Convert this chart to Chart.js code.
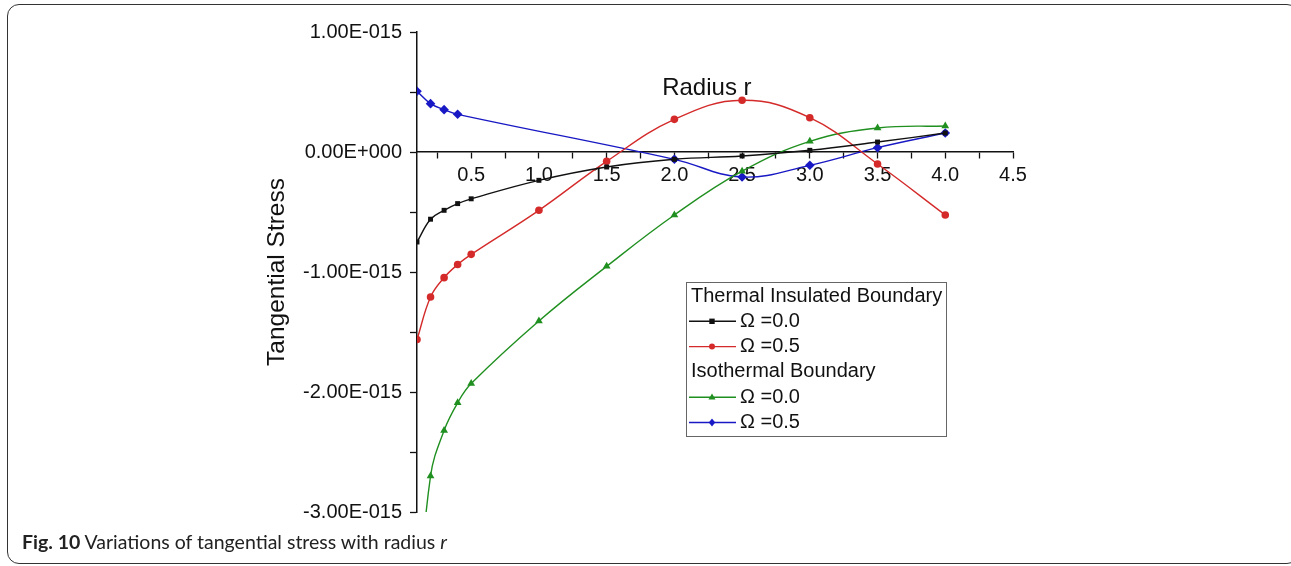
<!DOCTYPE html>
<html>
<head>
<meta charset="utf-8">
<script src="https://cdn.jsdelivr.net/npm/chart.js@4/dist/chart.umd.min.js"></script>
<style>
  body { margin: 0; background: #fff; width: 1291px; height: 566px; overflow: hidden; position: relative; }
  #frame { position: absolute; left: 7px; top: 4px; width: 1290px; height: 558px; border: 1.5px solid #333; border-radius: 12px; }
  #chart { position: absolute; left: 0; top: 0; }
  #caption { position: absolute; left: 22px; top: 530px; font-family: Lato, "Liberation Sans", sans-serif; font-size: 19.5px; color: #222; }
</style>
</head>
<body>
<div id="frame"></div>
<canvas id="chart" width="1291" height="566"></canvas>
<div id="caption"><b>Fig. 10</b> Variations of tangential stress with radius <i>r</i></div>
<script>
// values in units of 1e-15
const rInsul0 = [0.1, 0.2, 0.3, 0.4, 0.5, 1.0, 1.5, 2.0, 2.5, 3.0, 3.5, 4.0];
const sInsul0 = [-0.75, -0.56, -0.486, -0.43, -0.39, -0.236, -0.125, -0.061, -0.033, 0.014, 0.083, 0.158];

const rInsul5 = [0.1, 0.2, 0.3, 0.4, 0.5, 1.0, 1.5, 2.0, 2.5, 3.0, 3.5, 4.0];
const sInsul5 = [-1.563, -1.208, -1.047, -0.938, -0.853, -0.486, -0.078, 0.272, 0.431, 0.286, -0.1, -0.525];

const rIso0 = [0.1, 0.2, 0.3, 0.4, 0.5, 1.0, 1.5, 2.0, 2.5, 3.0, 3.5, 4.0];
const sIso0 = [-3.9, -2.70, -2.32, -2.09, -1.93, -1.408, -0.953, -0.525, -0.16, 0.089, 0.2, 0.217];

const rIso5 = [0.1, 0.2, 0.3, 0.4, 2.0, 2.5, 3.0, 3.5, 4.0];
const sIso5 = [0.506, 0.403, 0.353, 0.314, -0.061, -0.208, -0.111, 0.036, 0.158];

const yTicks = [-3, -2, -1, 0, 1];
const xLabelTicks = [0.5, 1.0, 1.5, 2.0, 2.5, 3.0, 3.5, 4.0, 4.5];

const FONT = "'Liberation Sans', Arial, sans-serif";

function pts(xs, ys) {
  return xs.map((x, i) => ({ x: x, y: ys[i] }));
}

function fmtE(v) {
  if (v === 0) return '0.00E+000';
  return (v < 0 ? '-' : '') + Math.abs(v).toFixed(2) + 'E-015';
}

const series = [
  { label: 'Ω =0.0', group: 'Thermal Insulated Boundary', data: pts(rInsul0, sInsul0), color: '#111111', style: 'rect', radius: 3.5 },
  { label: 'Ω =0.5', group: 'Thermal Insulated Boundary', data: pts(rInsul5, sInsul5), color: '#d42a2a', style: 'circle', radius: 3.8 },
  { label: 'Ω =0.0', group: 'Isothermal Boundary', data: pts(rIso0, sIso0), color: '#1f8f1f', style: 'triangle', radius: 4.5 },
  { label: 'Ω =0.5', group: 'Isothermal Boundary', data: pts(rIso5, sIso5), color: '#1818c4', style: 'rectRot', radius: 4.8 }
];

function drawMarker(ctx, style, r, x, y) {
  ctx.beginPath();
  if (style === 'rect') {
    ctx.rect(x - r, y - r, 2 * r, 2 * r);
  } else if (style === 'circle') {
    ctx.arc(x, y, r, 0, Math.PI * 2);
  } else if (style === 'triangle') {
    ctx.moveTo(x, y - r);
    ctx.lineTo(x + r * 0.95, y + r * 0.6);
    ctx.lineTo(x - r * 0.95, y + r * 0.6);
    ctx.closePath();
  } else {
    ctx.moveTo(x, y - r);
    ctx.lineTo(x + r * 0.8, y);
    ctx.lineTo(x, y + r);
    ctx.lineTo(x - r * 0.8, y);
    ctx.closePath();
  }
  ctx.fill();
}

const boxLegend = {
  id: 'boxLegend',
  afterDraw(chart) {
    const ctx = chart.ctx;
    const x0 = 686, y0 = 282, w = 260, h = 154;
    ctx.save();
    ctx.strokeStyle = '#666';
    ctx.lineWidth = 1;
    ctx.strokeRect(x0 + 0.5, y0 + 0.5, w, h);
    ctx.font = '20px ' + FONT;
    ctx.textBaseline = 'middle';
    ctx.fillStyle = '#111';
    let y = y0 + 14;
    let lastGroup = null;
    series.forEach(s => {
      if (s.group !== lastGroup) {
        ctx.fillStyle = '#111';
        ctx.fillText(s.group, x0 + 5, y);
        y += 25.3;
        lastGroup = s.group;
      }
      ctx.strokeStyle = s.color;
      ctx.lineWidth = 1.4;
      ctx.beginPath();
      ctx.moveTo(x0 + 3, y);
      ctx.lineTo(x0 + 50, y);
      ctx.stroke();
      ctx.fillStyle = s.color;
      drawMarker(ctx, s.style, s.radius - 0.8, x0 + 26, y);
      ctx.fillStyle = '#111';
      ctx.fillText(s.label, x0 + 54, y);
      y += 25.3;
    });
    ctx.restore();
  }
};

const axisTitle = {
  id: 'axisTitle',
  afterDraw(chart) {
    const ctx = chart.ctx;
    const xs = chart.scales.x, ys = chart.scales.y;
    ctx.save();
    ctx.font = '24px ' + FONT;
    ctx.fillStyle = '#111';
    ctx.textAlign = 'center';
    ctx.textBaseline = 'middle';
    ctx.fillText('Radius r', xs.getPixelForValue(2.24), ys.getPixelForValue(0.53));
    ctx.restore();
  }
};

new Chart(document.getElementById('chart'), {
  type: 'line',
  data: {
    datasets: series.map(s => ({
      label: s.label,
      data: s.data,
      borderColor: s.color,
      backgroundColor: s.color,
      borderWidth: 1.4,
      pointStyle: s.style,
      pointRadius: s.radius,
      pointBorderWidth: 0,
      pointBackgroundColor: s.color,
      tension: 0.4,
      fill: false
    }))
  },
  options: {
    responsive: false,
    animation: false,
    layout: { padding: { left: 263, top: 32, right: 278, bottom: 54 } },
    plugins: { legend: { display: false }, tooltip: { enabled: false } },
    scales: {
      x: {
        type: 'linear',
        position: { y: 0 },
        min: 0.1,
        max: 4.5,
        afterFit: s => { s.height = 0; },
        afterBuildTicks: s => {
          const t = [];
          for (let v = 0.25; v <= 4.5001; v += 0.25) t.push({ value: Math.round(v * 100) / 100 });
          s.ticks = t;
        },
        ticks: {
          autoSkip: false,
          maxRotation: 0,
          padding: 5,
          color: '#111',
          font: { family: FONT, size: 20 },
          callback: v => (xLabelTicks.includes(v) ? v.toFixed(1) : '')
        },
        grid: { drawOnChartArea: false, drawTicks: true, tickLength: 6, color: '#111', tickWidth: 1.3 },
        border: { display: true, color: '#111', width: 1.5 }
      },
      y: {
        min: -3,
        max: 1,
        afterFit: s => { s.width = 154; },
        ticks: {
          stepSize: 0.5,
          autoSkip: false,
          padding: 8,
          color: '#111',
          font: { family: FONT, size: 20 },
          callback: v => (yTicks.includes(v) ? fmtE(v) : '')
        },
        title: { display: true, text: 'Tangential Stress', color: '#111', font: { family: FONT, size: 24.5 }, padding: { top: 0, bottom: 0 } },
        grid: { drawOnChartArea: false, drawTicks: true, tickLength: 7, color: '#111', tickWidth: 1.3 },
        border: { display: true, color: '#111', width: 1.5 }
      }
    }
  },
  plugins: [boxLegend, axisTitle]
});
</script>
</body>
</html>
